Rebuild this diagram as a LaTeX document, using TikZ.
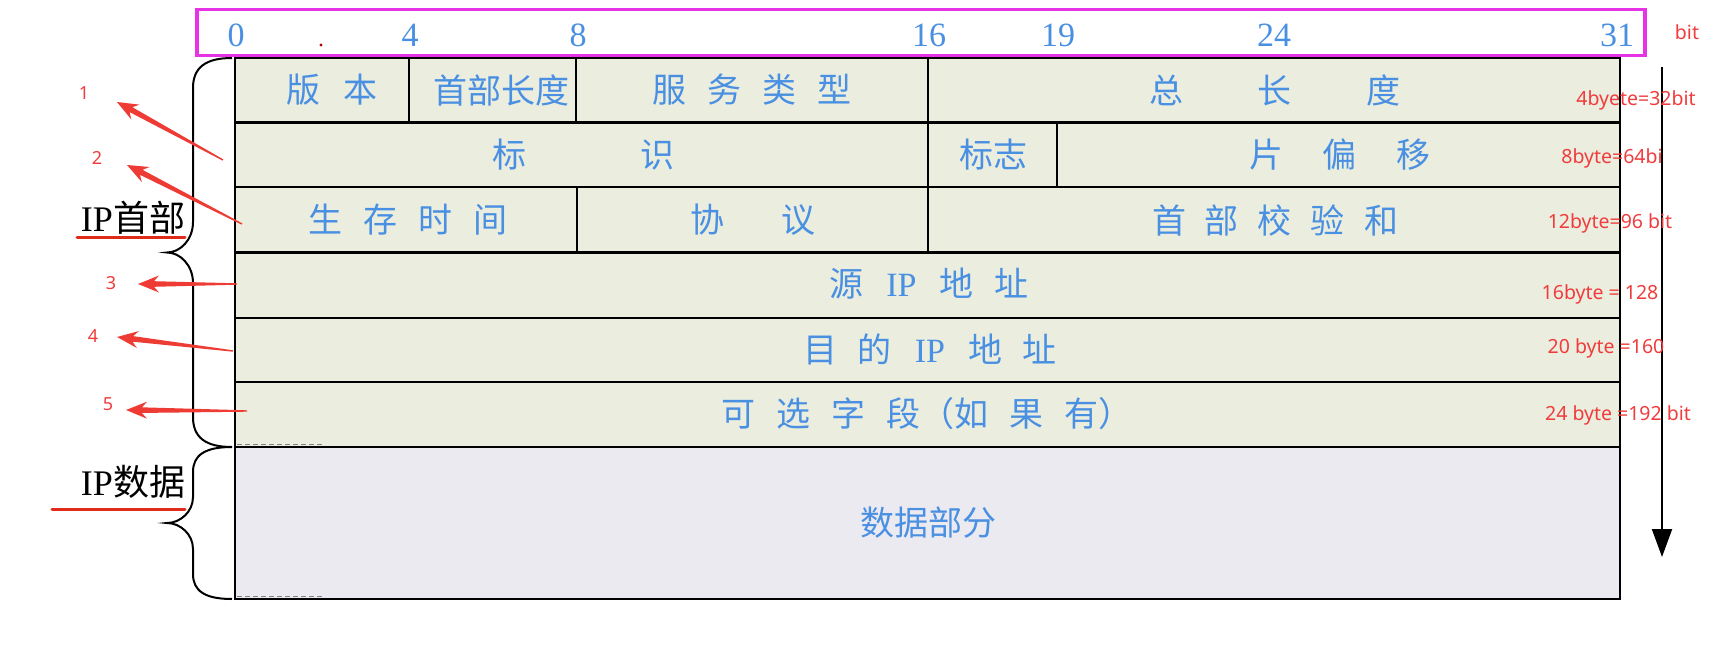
\documentclass[tikz,border=0pt]{standalone}
\usepackage{fontspec}
\setmainfont{Liberation Serif}
\newfontfamily\cjk{Noto Sans CJK SC}
\newfontfamily\rsans{Noto Sans}
\usetikzlibrary{arrows.meta,calc}
\definecolor{tblue}{HTML}{4A90E2}
\definecolor{hdrfill}{HTML}{EBEDDF}
\definecolor{datafill}{HTML}{ECEAF1}
\definecolor{mag}{HTML}{E633E6}
\definecolor{rtxt}{HTML}{F03C3C}
\definecolor{rarrow}{HTML}{EE3B34}
\definecolor{uline}{HTML}{E02A1A}
\newcommand\cb[1]{\makebox[34pt]{#1}}
\newcommand\gp[1]{\hspace{#1pt}}
\newcommand\redarrow[2]{%
  \path ($(#2)!16pt!(#1)$) coordinate (ra1) ($(#2)!21pt!(#1)$) coordinate (ra2);
  \fill[rarrow] ($(#1)!0.7pt!90:(#2)$) -- ($(ra1)!2.8pt!90:(#2)$) -- ($(ra2)!8.5pt!90:(#2)$) -- (#2)
     -- ($(ra2)!8.5pt!-90:(#2)$) -- ($(ra1)!2.8pt!-90:(#2)$) -- ($(#1)!0.7pt!-90:(#2)$) -- cycle;}
\tikzset{
  cell/.style={draw=black, line width=2.5pt, fill=hdrfill},
  datacell/.style={draw=black, line width=2.5pt, fill=datafill},
  btxt/.style={text=tblue, font=\cjk\fontsize{34}{40}\selectfont, inner sep=0pt},
  tick/.style={text=tblue, font=\rmfamily\fontsize{34}{40}\selectfont, inner sep=0pt},
  rlab/.style={text=rtxt, font=\rsans\fontsize{19.5}{22}\selectfont, inner sep=0pt},
  rnum/.style={text=rtxt, font=\rsans\fontsize{18}{22}\selectfont, inner sep=0pt},
  bracepath/.style={draw=black, line width=2pt},
  biglab/.style={text=black, font=\fontsize{36}{40}\selectfont, inner sep=0pt},
  ulinepath/.style={draw=uline, line width=3pt, line cap=round},
  magbox/.style={draw=mag, line width=3.5pt},
}
\begin{document}
\begin{tikzpicture}[x=1pt,y=-1pt]
\path[use as bounding box] (0,0) rectangle (1716,645);
% bit ruler
\draw[magbox] (197,9.5) rectangle (1645,55.5);
\node[tick] (b0) at (236,35) {0};
\node[tick] (b4) at (410,35) {4};
\node[tick] (b8) at (578,35) {8};
\node[tick] (b16) at (929,35) {16};
\node[tick] (b19) at (1058,35) {19};
\node[tick] (b24) at (1274,35) {24};
\node[tick] (b31) at (1617,35) {31};
\fill[red!70!black] (321,45) circle (1.6pt);
% table
\draw[cell] (235,58) rectangle (409,122.5);
\draw[cell] (409,58) rectangle (576,122.5);
\draw[cell] (576,58) rectangle (928,122.5);
\draw[cell] (928,58) rectangle (1620,122.5);
\draw[cell] (235,122.5) rectangle (928,187);
\draw[cell] (928,122.5) rectangle (1057,187);
\draw[cell] (1057,122.5) rectangle (1620,187);
\draw[cell] (235,187) rectangle (577,252.5);
\draw[cell] (577,187) rectangle (928,252.5);
\draw[cell] (928,187) rectangle (1620,252.5);
\draw[cell] (235,252.5) rectangle (1620,318);
\draw[cell] (235,318) rectangle (1620,382);
\draw[cell] (235,382) rectangle (1620,447);
\draw[datacell] (235,447) rectangle (1620,599);
\draw[gray, line width=1.2pt, dash pattern=on 5pt off 3pt] (237,444.5) -- (322,444.5);
\draw[gray, line width=1.2pt, dash pattern=on 5pt off 3pt] (237,596.5) -- (322,596.5);
% field texts
\node[btxt] (f1) at (332,90) {\cb{版}\gp{23}\cb{本}};
\node[btxt] (f2) at (501,90) {首部长度};
\node[btxt] (f3) at (752,90) {\cb{服}\gp{21}\cb{务}\gp{21}\cb{类}\gp{21}\cb{型}};
\node[btxt] (f4) at (1275,90) {\cb{总}\gp{75}\cb{长}\gp{75}\cb{度}};
\node[btxt] (f5) at (583,155) {\cb{标}\gp{114}\cb{识}};
\node[btxt] (f6) at (993,155) {标志};
\node[btxt] (f7) at (1340,155) {\cb{片}\gp{40}\cb{偏}\gp{40}\cb{移}};
\node[btxt] (f8) at (408,220) {\cb{生}\gp{21}\cb{存}\gp{21}\cb{时}\gp{21}\cb{间}};
\node[btxt] (f9) at (753,220) {\cb{协}\gp{58}\cb{议}};
\node[btxt] (f10) at (1275,220) {\cb{首}\gp{19}\cb{部}\gp{19}\cb{校}\gp{19}\cb{验}\gp{19}\cb{和}};
\node[btxt] (f11) at (929,284) {\cb{源}\gp{21}\cb{\rmfamily IP}\gp{21}\cb{地}\gp{21}\cb{址}};
\node[btxt] (f12) at (930,349) {\cb{目}\gp{21}\cb{的}\gp{21}\cb{\rmfamily IP}\gp{21}\cb{地}\gp{21}\cb{址}};
\node[btxt] (f13) at (927,414) {\cb{可}\gp{21}\cb{选}\gp{21}\cb{字}\gp{21}\cb{段}（\cb{如}\gp{21}\cb{果}\gp{21}\cb{有}）};
\node[btxt] (f14) at (928,523) {数据部分};
% braces
\draw[bracepath] (232,58) .. controls (205,58) and (193,68) .. (193,88) -- (193,222)
  .. controls (193,240) and (180,252.5) .. (167,252.5) .. controls (180,252.5) and (193,265) .. (193,283)
  -- (193,417) .. controls (193,437) and (205,447) .. (232,447);
\draw[bracepath] (232,447) .. controls (205,447) and (193,455) .. (193,472) -- (193,497)
  .. controls (193,512) and (180,523) .. (167,523) .. controls (180,523) and (193,534) .. (193,549)
  -- (193,574) .. controls (193,591) and (205,599) .. (232,599);
\node[biglab] (hdr) at (133,218) {{\rmfamily IP}{\cjk 首部}};
\node[biglab] (dat) at (133,482) {{\rmfamily IP}{\cjk 数据}};
\coordinate (u1a) at (77,237); \coordinate (u1b) at (185,237);
\coordinate (u2a) at (52,509); \coordinate (u2b) at (185,509);
\draw[ulinepath] (u1a) -- (u1b);
\draw[ulinepath] (u2a) -- (u2b);
% red arrows and numbers
\node[rnum] (n1) at (84,93) {1};
\node[rnum] (n2) at (97,158) {2};
\node[rnum] (n3) at (111,283) {3};
\node[rnum] (n4) at (93,336) {4};
\node[rnum] (n5) at (108,404) {5};
\coordinate (t1) at (223,160); \coordinate (h1) at (117,102);
\coordinate (t2) at (242,224); \coordinate (h2) at (127,165);
\coordinate (t3) at (237,284); \coordinate (h3) at (138,284);
\coordinate (t4) at (233,351); \coordinate (h4) at (117,337);
\coordinate (t5) at (247,411); \coordinate (h5) at (126,410);
\redarrow{t1}{h1}
\redarrow{t2}{h2}
\redarrow{t3}{h3}
\redarrow{t4}{h4}
\redarrow{t5}{h5}
% right side
\coordinate (vtop) at (1662,67);
\coordinate (vbot) at (1662,557);
\draw[line width=2pt, -{Triangle[length=28pt,width=20pt]}] (vtop) -- (vbot);
\node[rlab] (bitlab) at (1687,32) {bit};
\node[rlab] (s1) at (1636,100) {4byete=32bit};
\node[rlab] (s2) at (1612,158) {8byte=64bi};
\node[rlab] (s3) at (1610,223) {12byte=96 bit};
\node[rlab] (s4) at (1600,294) {16byte = 128};
\node[rlab] (s5) at (1606,348) {20 byte =160};
\node[rlab] (s6) at (1618,415) {24 byte =192 bit};
\end{tikzpicture}
\end{document}
